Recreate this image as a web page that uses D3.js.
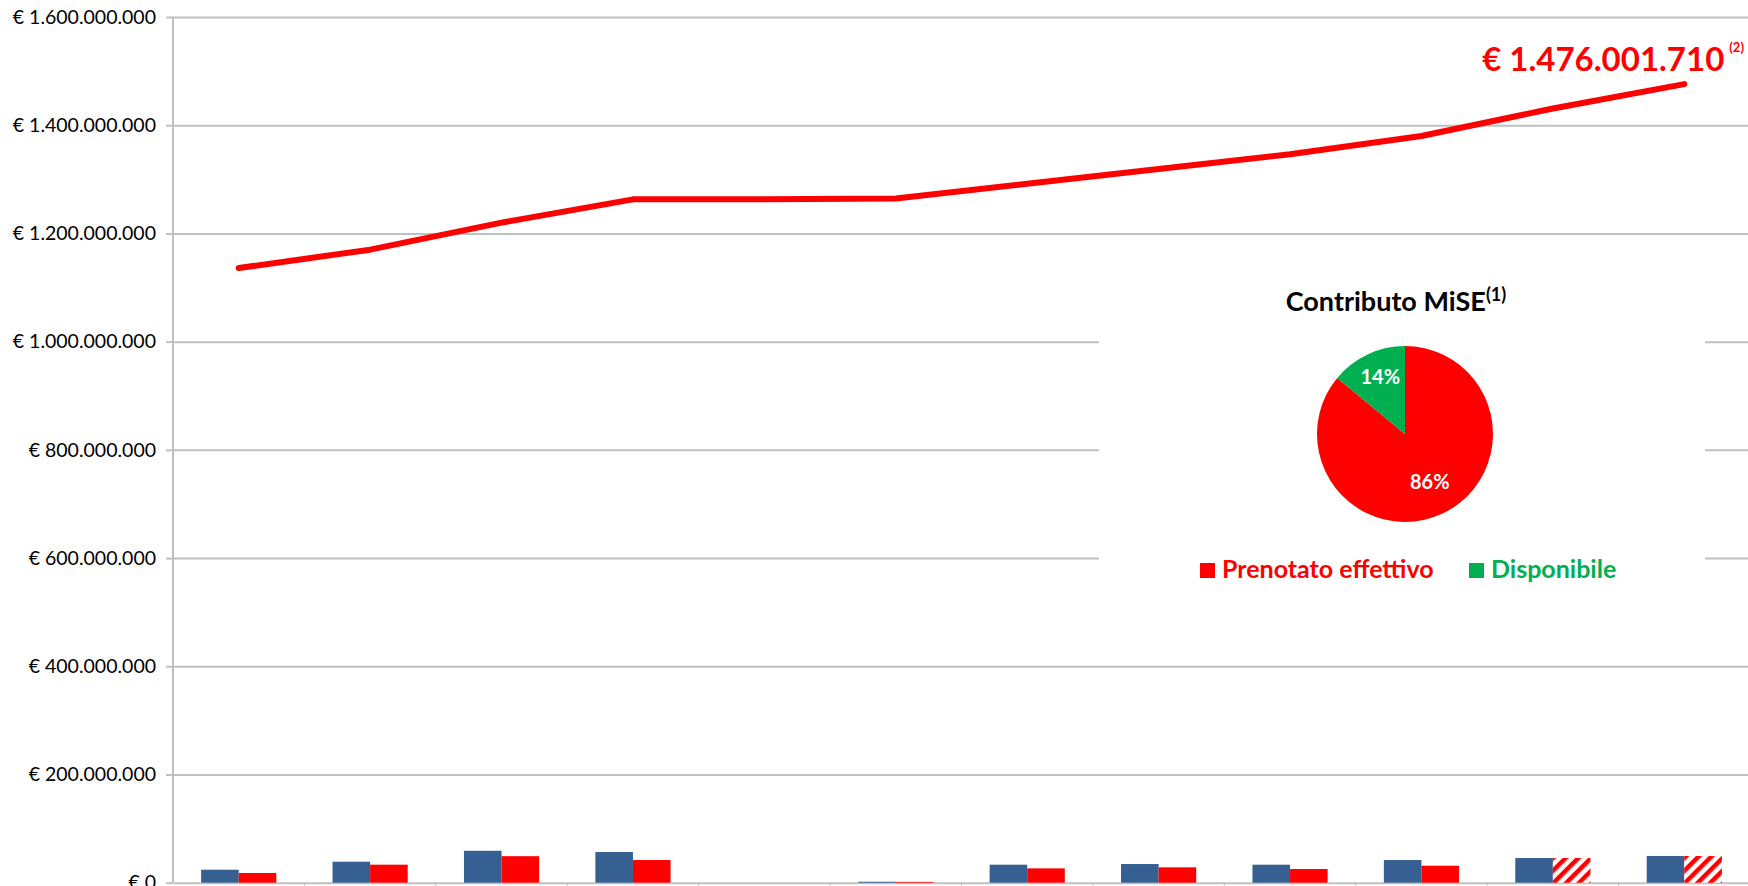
<!DOCTYPE html>
<html lang="it">
<head>
    <meta charset="UTF-8">
    <title>Contributo MiSE</title>
    <style>
        * { margin: 0; padding: 0; box-sizing: border-box; }
        body { background: #fff; font-family: 'Lato', 'Open Sans', sans-serif; overflow: hidden; }
        .grid line { stroke: #c0c0c0; stroke-width: 2; }
        .grid path { display: none; }
        .y.axis path { display: none; }
        .y.axis line { stroke: #c0c0c0; stroke-width: 2; }
        .y.axis text { font-family: 'Lato', sans-serif; font-size: 19.5px; fill: #000; }
        .x.axis path { stroke: #c0c0c0; stroke-width: 2; }
        .x.axis line { stroke: #c0c0c0; stroke-width: 1; }
    </style>
</head>
<body>
<div id="chart"></div>
<script src="https://d3js.org/d3.v7.min.js"></script>
<script>
// categories (x labels are cut off in the source picture)
const categories = ["1", "2", "3", "4", "5", "6", "7", "8", "9", "10", "11", "12"];
// bar series, euro
const blueValues = [24e6, 38.8e6, 59e6, 56.7e6, 0, 1.8e6, 33.3e6, 34.5e6, 33.3e6, 41.9e6, 45.6e6, 49.3e6];
const redValues = [18e6, 33.3e6, 49e6, 41.9e6, 0, 1.4e6, 26.5e6, 28.4e6, 25.3e6, 31.4e6, 45.6e6, 49.3e6];
// last two red bars are hatched (estimated)
const redHatched = [false, false, false, false, false, false, false, false, false, false, true, true];
// cumulative line, euro
const lineValues = [1136e6, 1170e6, 1220e6, 1263e6, 1263e6, 1264.5e6, 1292e6, 1319e6, 1346.4e6, 1380e6, 1431e6, 1476001710];
const yTicks = [0, 2e8, 4e8, 6e8, 8e8, 1e9, 1.2e9, 1.4e9, 1.6e9];
// pie
const pieLabels = ["Prenotato effettivo", "Disponibile"];
const pieValues = [86, 14];
const pieColors = ["#ff0000", "#00b050"];

const W = 1748, H = 886;
const margin = { top: 17, right: 0, bottom: 3.3, left: 173 };
const width = W - margin.left - margin.right;
const height = H - margin.top - margin.bottom;

const it = d3.formatLocale({ decimal: ",", thousands: ".", grouping: [3], currency: ["€ ", ""] });
const euro = it.format("$,.0f");

const root = d3.select("#chart").append("svg")
    .attr("width", W)
    .attr("height", H);

// hatch pattern for estimated bars
root.append("defs").append("pattern")
    .attr("id", "hatch")
    .attr("patternUnits", "userSpaceOnUse")
    .attr("width", 9)
    .attr("height", 9)
    .attr("patternTransform", "rotate(45)")
    .call(p => {
        p.append("rect").attr("width", 9).attr("height", 9).attr("fill", "#fff");
        p.append("rect").attr("width", 4.5).attr("height", 9).attr("fill", "#ff0000");
    });

const svg = root.append("g")
    .attr("transform", `translate(${margin.left},${margin.top})`);

const x = d3.scaleBand()
    .domain(categories)
    .range([0, 1577])
    .padding(0);

const x1 = d3.scaleBand()
    .domain(["blue", "red"])
    .range([x.bandwidth() * 0.214, x.bandwidth() * 0.786]);

const y = d3.scaleLinear()
    .domain([0, 1.6e9])
    .range([height, 0]);

// gridlines
svg.append("g")
    .attr("class", "grid")
    .call(d3.axisLeft(y).tickValues(yTicks.slice(1)).tickSize(-width).tickFormat(""));

// y axis with labels
svg.append("g")
    .attr("class", "y axis")
    .call(d3.axisLeft(y).tickValues(yTicks).tickSize(7).tickPadding(10).tickFormat(euro));

svg.append("line")
    .attr("x1", 0).attr("x2", 0)
    .attr("y1", 0).attr("y2", height)
    .attr("stroke", "#c0c0c0").attr("stroke-width", 2);

// x axis (ticks at category boundaries)
const xAxis = svg.append("g")
    .attr("class", "x axis")
    .attr("transform", `translate(0,${height})`)
    .call(d3.axisBottom(x).tickSize(0).tickFormat(""));
xAxis.selectAll(".bound")
    .data(categories)
    .enter()
    .append("line")
    .attr("class", "bound")
    .attr("x1", d => x(d) + x.bandwidth())
    .attr("x2", d => x(d) + x.bandwidth())
    .attr("y1", 0).attr("y2", 7);

// pie background box hides the gridlines behind it
root.append("rect")
    .attr("x", 1099).attr("y", 258)
    .attr("width", 606).attr("height", 345)
    .attr("fill", "#fff");

// bars
const groups = svg.selectAll(".cat")
    .data(categories)
    .enter()
    .append("g")
    .attr("class", "cat")
    .attr("transform", d => `translate(${x(d)},0)`);

groups.append("rect")
    .attr("x", x1("blue"))
    .attr("width", x1.bandwidth())
    .attr("y", (d, i) => y(blueValues[i]))
    .attr("height", (d, i) => height - y(blueValues[i]))
    .attr("fill", "#376092");

groups.append("rect")
    .attr("x", x1("red"))
    .attr("width", x1.bandwidth())
    .attr("y", (d, i) => y(redValues[i]))
    .attr("height", (d, i) => height - y(redValues[i]))
    .attr("fill", (d, i) => redHatched[i] ? "url(#hatch)" : "#ff0000");

// line
const line = d3.line()
    .x((d, i) => x(categories[i]) + x.bandwidth() / 2)
    .y(d => y(d));

svg.append("path")
    .datum(lineValues)
    .attr("d", line)
    .attr("fill", "none")
    .attr("stroke", "#ff0000")
    .attr("stroke-width", 6)
    .attr("stroke-linecap", "round")
    .attr("stroke-linejoin", "round");

// total label
const last = lineValues[lineValues.length - 1];
svg.append("text")
    .attr("x", x(categories[11]) + x.bandwidth() / 2 + 40)
    .attr("y", y(last) - 13)
    .attr("text-anchor", "end")
    .attr("fill", "#ff0000")
    .attr("font-weight", 700)
    .attr("font-size", 33)
    .text(euro(last));
svg.append("text")
    .attr("x", x(categories[11]) + x.bandwidth() / 2 + 45)
    .attr("y", y(last) - 32)
    .attr("fill", "#ff0000")
    .attr("font-weight", 700)
    .attr("font-size", 13)
    .text("(2)");

// pie chart
const cx = 1405, cy = 434, r = 88;
const pie = d3.pie().sort(null)(pieValues);
const arc = d3.arc().innerRadius(0).outerRadius(r);
const labelArc = d3.arc().innerRadius(r * 0.66).outerRadius(r * 0.66);

const pg = root.append("g").attr("transform", `translate(${cx},${cy})`);
pg.selectAll("path")
    .data(pie)
    .enter()
    .append("path")
    .attr("d", arc)
    .attr("fill", (d, i) => pieColors[i]);

pg.selectAll(".plabel")
    .data(pie)
    .enter()
    .append("text")
    .attr("class", "plabel")
    .attr("transform", d => `translate(${labelArc.centroid(d)})`)
    .attr("text-anchor", "middle")
    .attr("dy", "0.12em")
    .attr("fill", "#fff")
    .attr("font-weight", 700)
    .attr("font-size", 20)
    .text(d => d.value + "%");

const title = root.append("text")
    .attr("x", 1396)
    .attr("y", 311)
    .attr("text-anchor", "middle")
    .attr("font-weight", 700)
    .attr("font-size", 27)
    .attr("fill", "#000");
title.append("tspan").text("Contributo MiSE");
title.append("tspan").attr("dy", -10).attr("font-size", 18).text("(1)");

// pie legend
const legendX = [1200, 1469];
const leg = root.selectAll(".leg")
    .data(pieLabels)
    .enter()
    .append("g")
    .attr("class", "leg")
    .attr("transform", (d, i) => `translate(${legendX[i]},578)`);
leg.append("rect")
    .attr("x", 0).attr("y", -15)
    .attr("width", 15).attr("height", 15)
    .attr("fill", (d, i) => pieColors[i]);
leg.append("text")
    .attr("x", 22)
    .attr("y", 0)
    .attr("font-weight", 700)
    .attr("font-size", 25)
    .attr("fill", (d, i) => pieColors[i])
    .text(d => d);
</script>
</body>
</html>
